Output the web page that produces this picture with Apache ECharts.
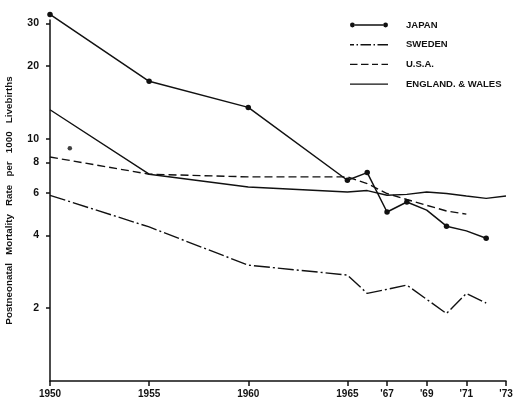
<!DOCTYPE html>
<html><head><meta charset="utf-8">
<script src="https://cdn.jsdelivr.net/npm/echarts@6/dist/echarts.min.js"></script>
<style>html,body{margin:0;padding:0;background:#fff}#c{width:521px;height:398px}</style>
</head><body><div id="c"></div>
<script>
const seriesNames = ['JAPAN', 'SWEDEN', 'U.S.A.', 'ENGLAND. & WALES'];
const japanYears = [1950, 1955, 1960, 1965, 1966, 1967, 1968, 1969, 1970, 1971, 1972];
const japanValues = [32.7, 17.3, 13.5, 6.75, 7.26, 4.99, 5.49, 5.08, 4.36, 4.17, 3.89];
const japanMarkedYears = [1950, 1955, 1960, 1965, 1966, 1967, 1968, 1970, 1972];
const swedenYears = [1950, 1955, 1960, 1965, 1966, 1968, 1970, 1971, 1972];
const swedenValues = [5.85, 4.33, 3.01, 2.74, 2.30, 2.49, 1.90, 2.30, 2.10];
const usaYears = [1950, 1955, 1960, 1965, 1966, 1967, 1968, 1969, 1970, 1971];
const usaValues = [8.42, 7.15, 6.97, 6.97, 6.54, 5.95, 5.62, 5.32, 5.04, 4.89];
const ewYears = [1950, 1955, 1960, 1965, 1966, 1967, 1968, 1969, 1970, 1971, 1972, 1973];
const ewValues = [13.2, 7.15, 6.33, 6.04, 6.12, 5.85, 5.90, 6.04, 5.95, 5.81, 5.68, 5.81];
const strayYears = [1951];
const strayValues = [9.15];
const xTickValues = [1950, 1955, 1960, 1965, 1967, 1969, 1971, 1973];
const xTickLabels = ['1950', '1955', '1960', '1965', "'67", "'69", "'71", "'73"];
const yTickValues = [2, 4, 6, 8, 10, 20, 30];
const yTickLabels = ['2', '4', '6', '8', '10', '20', '30'];
const yAxisTitle = 'Postneonatal   Mortality   Rate   per   1000   Livebirths';

const INK = '#111';
const FONT = 'Liberation Sans';
const pairs = (xs, ys) => xs.map((x, i) => [x, ys[i]]);
const rects = (segs) => 'path://' + segs.map(s => `M${s[0]},2.3H${s[1]}V3.7H${s[0]}Z`).join('');

const icons = {
  'JAPAN': 'path://M0,3A2.4,2.4,0,1,0,4.8,3A2.4,2.4,0,1,0,0,3ZM4.8,2.3H33.2V3.7H4.8ZM33.2,3A2.4,2.4,0,1,0,38,3A2.4,2.4,0,1,0,33.2,3Z',
  'SWEDEN': rects([[0, 4], [6.5, 8], [10.5, 21], [23.5, 25], [27.5, 38]]),
  'U.S.A.': rects([[0, 7.5], [11, 18.5], [22, 28], [31.5, 38]]),
  'ENGLAND. & WALES': rects([[0, 38]])
};

const chart = echarts.init(document.getElementById('c'), null, {renderer: 'canvas'});
chart.setOption({
  backgroundColor: '#fff',
  animation: false,
  grid: {left: 50, right: 15, top: 20, bottom: 17, containLabel: false, outerBoundsMode: 'none'},
  legend: {
    orient: 'vertical', left: 345, top: 15, itemWidth: 38, itemHeight: 6, itemGap: 9.7,
    selectedMode: false,
    itemStyle: {color: INK, borderWidth: 0},
    textStyle: {fontFamily: FONT, fontWeight: 'bold', fontSize: 9.5, color: INK, padding: [0, 0, 0, 13]},
    data: seriesNames.map(n => ({name: n, icon: icons[n]}))
  },
  xAxis: {
    type: 'value', min: 1950, max: 1973,
    axisLine: {show: true, onZero: false, lineStyle: {color: INK, width: 1.5}},
    axisTick: {show: true, customValues: xTickValues, length: 5, lineStyle: {color: INK, width: 1.5}},
    axisLabel: {
      customValues: xTickValues, margin: 8, color: INK, fontFamily: FONT, fontWeight: 'bold', fontSize: 10,
      formatter: v => { const i = xTickValues.indexOf(Math.round(v)); return i >= 0 ? xTickLabels[i] : ''; }
    },
    splitLine: {show: false}
  },
  yAxis: {
    type: 'log', logBase: 10, min: 1, max: 31,
    axisLine: {show: true, lineStyle: {color: INK, width: 1.5}},
    axisTick: {show: true, customValues: yTickValues, length: 4, lineStyle: {color: INK, width: 1.5}},
    minorTick: {show: false},
    axisLabel: {
      customValues: yTickValues, margin: 11, color: INK, fontFamily: FONT, fontWeight: 'bold', fontSize: 10.5,
      formatter: v => { const i = yTickValues.findIndex(t => Math.abs(t - v) < 1e-6 * t); return i >= 0 ? yTickLabels[i] : ''; }
    },
    splitLine: {show: false},
    name: yAxisTitle, nameLocation: 'middle', nameRotate: 90, nameGap: 36,
    nameTextStyle: {fontFamily: FONT, fontWeight: 'bold', fontSize: 9.8, color: INK}
  },
  series: [
    {
      name: seriesNames[0], type: 'line', clip: false, z: 5,
      showSymbol: true, showAllSymbol: true, symbol: 'circle', symbolSize: 5.5,
      itemStyle: {color: INK, borderWidth: 0},
      lineStyle: {color: INK, width: 1.5},
      data: japanYears.map((y, i) => ({value: [y, japanValues[i]], symbol: japanMarkedYears.includes(y) ? 'circle' : 'none'}))
    },
    {
      name: seriesNames[1], type: 'line', symbol: 'none',
      itemStyle: {color: INK},
      lineStyle: {color: INK, width: 1.4, type: [16, 3, 2, 3]},
      data: pairs(swedenYears, swedenValues)
    },
    {
      name: seriesNames[2], type: 'line', symbol: 'none',
      itemStyle: {color: INK},
      lineStyle: {color: INK, width: 1.4, type: [8, 4]},
      data: pairs(usaYears, usaValues)
    },
    {
      name: seriesNames[3], type: 'line', symbol: 'none',
      itemStyle: {color: INK},
      lineStyle: {color: INK, width: 1.4},
      data: pairs(ewYears, ewValues)
    },
    {
      name: 'stray', type: 'scatter', symbolSize: 4.5,
      itemStyle: {color: INK},
      data: pairs(strayYears, strayValues)
    }
  ]
});
</script>
</body></html>
